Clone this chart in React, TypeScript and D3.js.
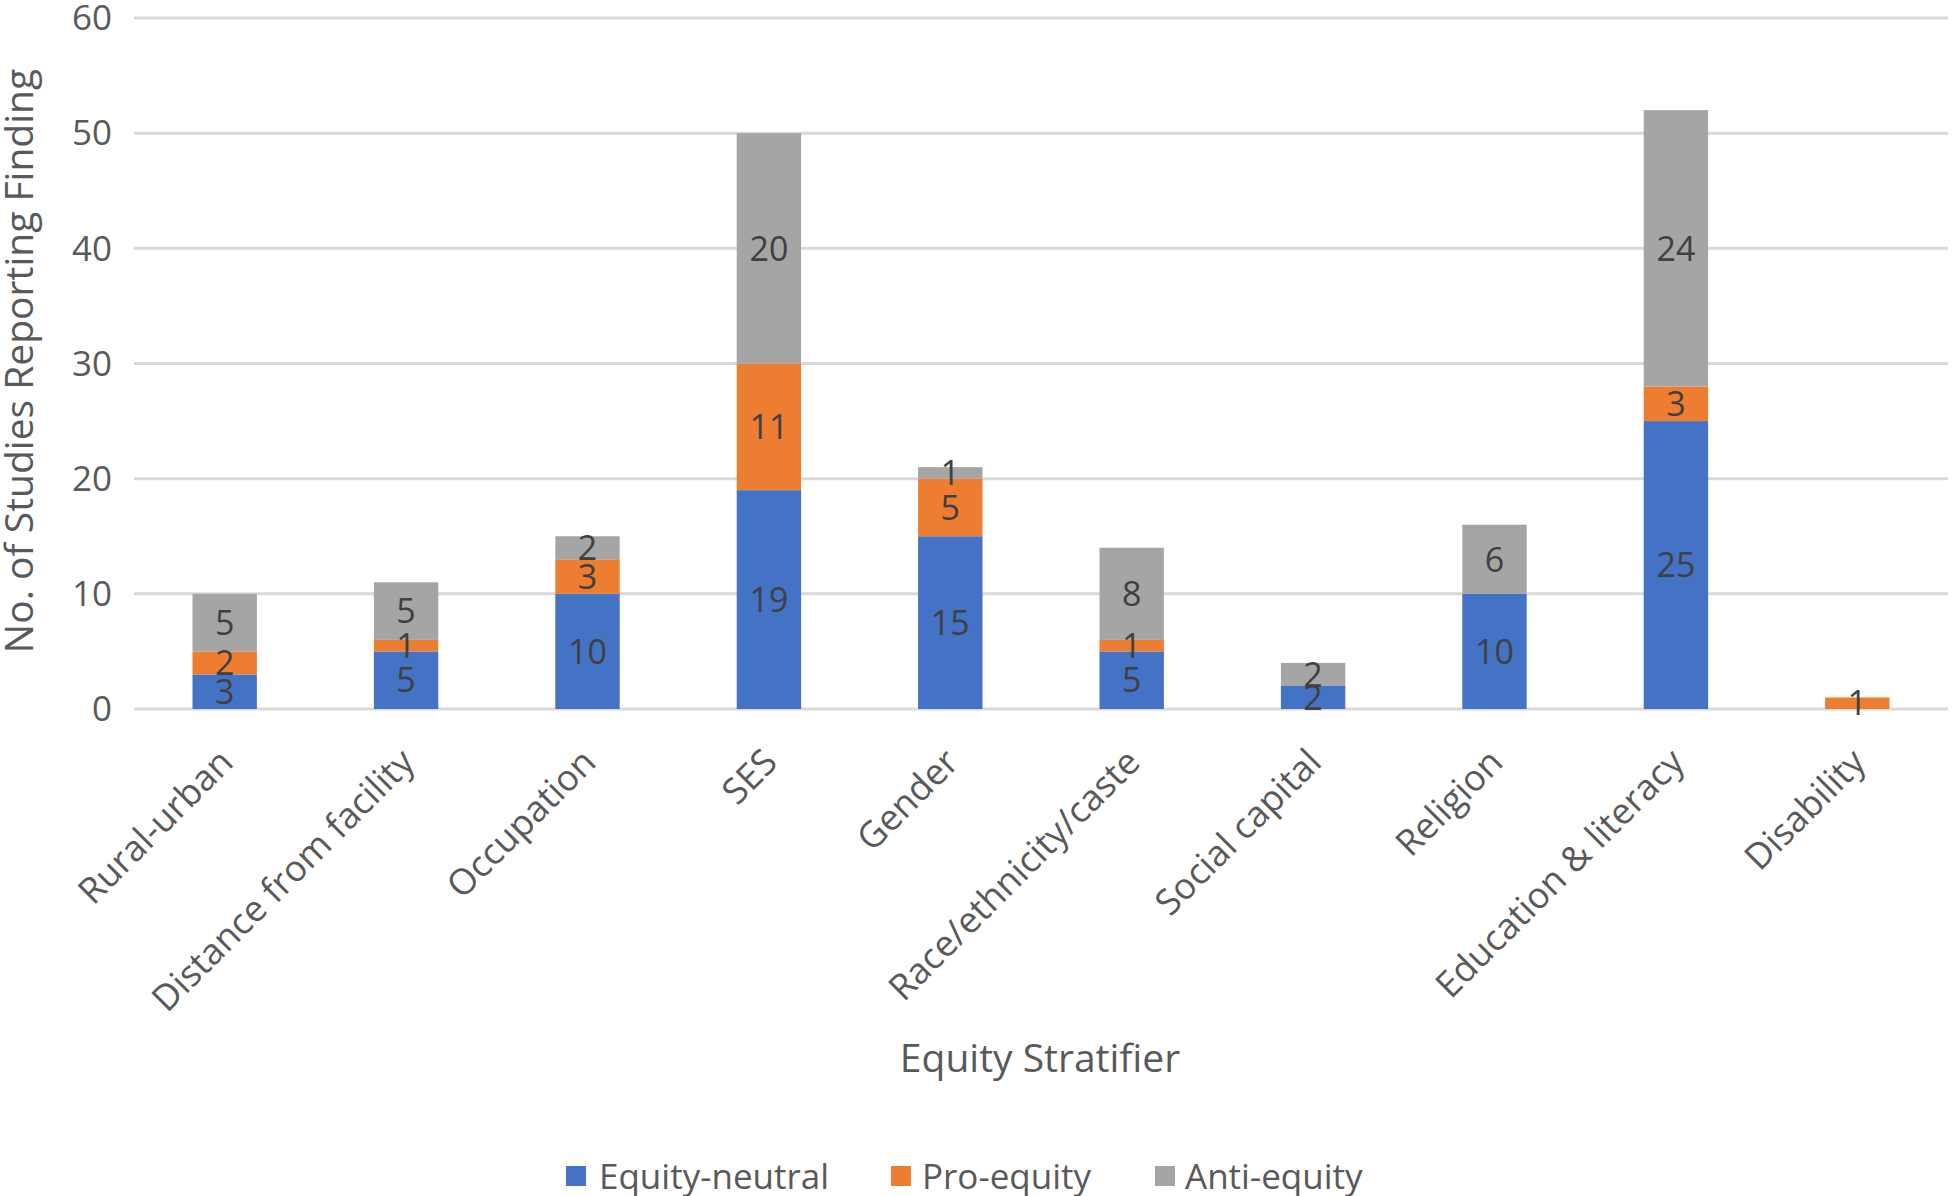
import React from "react";
import * as d3 from "d3";

const categories = [
  "Rural-urban",
  "Distance from facility",
  "Occupation",
  "SES",
  "Gender",
  "Race/ethnicity/caste",
  "Social capital",
  "Religion",
  "Education & literacy",
  "Disability",
];
const equityNeutral = [3, 5, 10, 19, 15, 5, 2, 10, 25, 0];
const proEquity = [2, 1, 3, 11, 5, 1, 0, 0, 3, 1];
const antiEquity = [5, 5, 2, 20, 1, 8, 2, 6, 24, 0];
const seriesNames = ["Equity-neutral", "Pro-equity", "Anti-equity"];
const seriesColors = ["#4472C4", "#ED7D31", "#A5A5A5"];
const yTicks = [0, 10, 20, 30, 40, 50, 60];

const W = 1952;
const H = 1196;
const FONT = "'Open Sans', 'Noto Sans', sans-serif";

export default function App() {
  const x = d3.scaleBand<string>().domain(categories).range([134, 1948]).paddingInner(0.645).paddingOuter(0.3225);
  const y = d3.scaleLinear().domain([0, 60]).range([709, 18]);

  const rows = categories.map((c, i) => ({
    cat: c,
    s0: equityNeutral[i],
    s1: proEquity[i],
    s2: antiEquity[i],
  }));
  const stack = d3.stack<any>().keys(["s0", "s1", "s2"])(rows);

  const legendItems = [
    { x: 566, tx: 599 },
    { x: 891, tx: 922 },
    { x: 1155, tx: 1185 },
  ];

  return (
    <svg
      width={W}
      height={H}
      style={{ position: "absolute", left: 0, top: 0, background: "#fff" }}
      fontFamily={FONT}
    >
      {yTicks.map((t) => (
        <g key={t}>
          <line x1={134} x2={1948} y1={y(t)} y2={y(t)} stroke="#D9D9D9" strokeWidth={3} />
          <text x={112} y={y(t)} dy="0.35em" textAnchor="end" fontSize={35} fill="#595959">
            {t}
          </text>
        </g>
      ))}
      {stack.map((layer, si) =>
        layer.map((d, i) => {
          const v = d[1] - d[0];
          if (v <= 0) return null;
          const bx = x(categories[i])!;
          return (
            <rect
              key={`${si}-${i}`}
              x={bx}
              width={x.bandwidth()}
              y={y(d[1])}
              height={y(d[0]) - y(d[1])}
              fill={seriesColors[si]}
            />
          );
        })
      )}
      {stack.map((layer, si) =>
        layer.map((d, i) => {
          const v = d[1] - d[0];
          if (v <= 0) return null;
          const cx = x(categories[i])! + x.bandwidth() / 2;
          return (
            <text
              key={`l-${si}-${i}`}
              x={cx}
              y={(y(d[0]) + y(d[1])) / 2}
              dy="0.36em"
              textAnchor="middle"
              fontSize={34}
              fill="#404040"
            >
              {v}
            </text>
          );
        })
      )}
      {categories.map((c) => {
        const cx = x(c)! + x.bandwidth() / 2;
        return (
          <text
            key={c}
            transform={`translate(${cx - 8},${746}) rotate(-45)`}
            textAnchor="end"
            dy="0.72em"
            fontSize={36}
            fill="#595959"
          >
            {c}
          </text>
        );
      })}
      <text
        transform={`translate(19,361) rotate(-90)`}
        textAnchor="middle"
        dy="0.36em"
        fontSize={39}
        fill="#595959"
      >
        No. of Studies Reporting Finding
      </text>
      <text x={1040} y={1058} textAnchor="middle" dy="0.36em" fontSize={39} fill="#595959">
        Equity Stratifier
      </text>
      {seriesNames.map((n, i) => (
        <g key={n}>
          <rect x={legendItems[i].x} y={1166} width={20} height={20} fill={seriesColors[i]} />
          <text x={legendItems[i].tx} y={1176} dy="0.36em" fontSize={35} fill="#595959">
            {n}
          </text>
        </g>
      ))}
    </svg>
  );
}
